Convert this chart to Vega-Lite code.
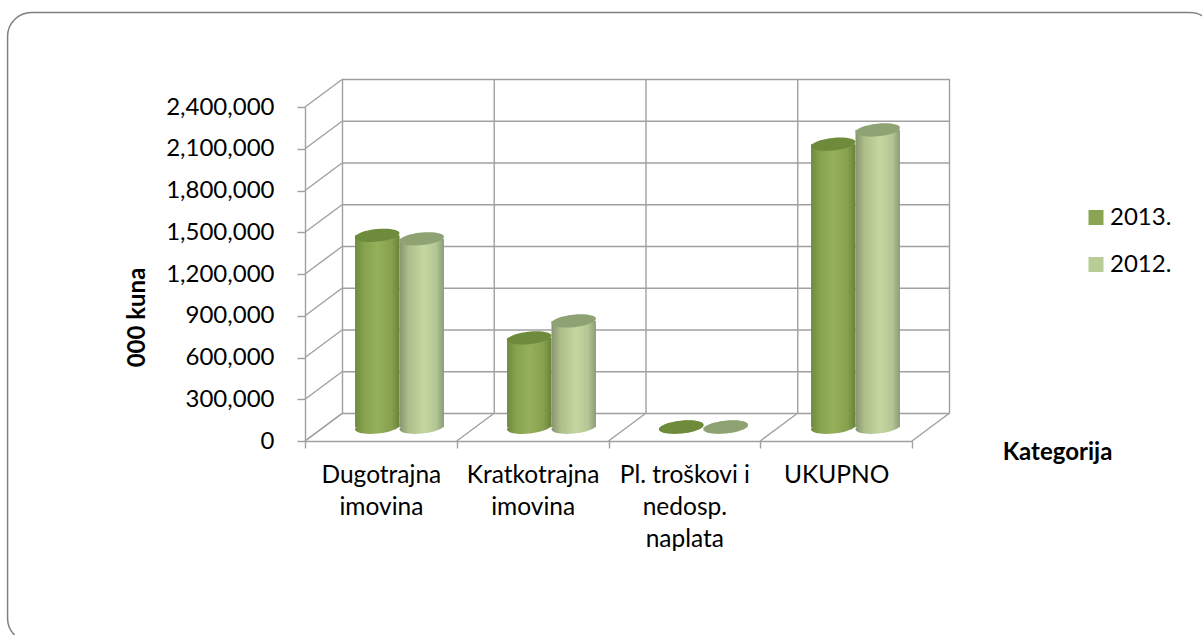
{"$schema":"https://vega.github.io/schema/vega-lite/v6.json","width":607,"height":334,"autosize":"none","padding":{"left":305,"top":107,"right":290,"bottom":194},"background":"white","config":{"view":{"stroke":null},"font":"Lato"},"datasets":{"bars":[{"cat":"Dugotrajna imovina","series":"2013.","value":1379000},{"cat":"Dugotrajna imovina","series":"2012.","value":1354000},{"cat":"Kratkotrajna imovina","series":"2013.","value":642000},{"cat":"Kratkotrajna imovina","series":"2012.","value":764000},{"cat":"Pl. troškovi i nedosp. naplata","series":"2013.","value":2000},{"cat":"Pl. troškovi i nedosp. naplata","series":"2012.","value":2000},{"cat":"UKUPNO","series":"2013.","value":2034000},{"cat":"UKUPNO","series":"2012.","value":2136000}],"ticks":[{"v":0},{"v":300000},{"v":600000},{"v":900000},{"v":1200000},{"v":1500000},{"v":1800000},{"v":2100000},{"v":2400000}],"seps":[{"p":0},{"p":1},{"p":2},{"p":3},{"p":4}]},"resolve":{"scale":{"x":"independent","y":"independent","color":"independent"},"axis":{"x":"independent","y":"independent"}},"layer":[{"mark":{"type":"rect","fill":null,"stroke":"#808080","strokeWidth":1.5,"cornerRadius":24},"data":{"values":[{}]},"encoding":{"x":{"datum":-1.96,"type":"quantitative","scale":{"domain":[0,4]},"axis":null},"x2":{"datum":5.99},"y":{"datum":3079000,"type":"quantitative","scale":{"domain":[0,2400000]},"axis":null},"y2":{"datum":-1446000}}},{"data":{"name":"ticks"},"mark":{"type":"rule","color":"#a0a0a0","strokeWidth":1.4,"xOffset":37,"x2Offset":38,"yOffset":-27.5},"encoding":{"x":{"datum":0,"type":"quantitative","scale":{"domain":[0,4]},"axis":null},"x2":{"datum":4},"y":{"field":"v","type":"quantitative","scale":{"domain":[0,2400000]},"axis":null}}},{"data":{"name":"seps"},"mark":{"type":"rule","color":"#a0a0a0","strokeWidth":1.4,"xOffset":37.5,"yOffset":-27.5,"y2Offset":-27.5},"encoding":{"x":{"field":"p","type":"quantitative","scale":{"domain":[0,4]},"axis":null},"y":{"datum":0,"type":"quantitative","scale":{"domain":[0,2400000]},"axis":null},"y2":{"datum":2400000}}},{"data":{"name":"ticks"},"mark":{"type":"rule","color":"#a0a0a0","strokeWidth":1.4,"x2Offset":37,"y2Offset":-27.5},"encoding":{"x":{"datum":0,"type":"quantitative","scale":{"domain":[0,4]},"axis":null},"x2":{"datum":0},"y":{"field":"v","type":"quantitative","scale":{"domain":[0,2400000]},"axis":{"values":[0,300000,600000,900000,1200000,1500000,1800000,2100000,2400000],"format":",d","grid":false,"title":"000 kuna","titleFont":"Lato","titleFontSize":24,"titleFontWeight":"bold","titleColor":"#000","titleX":-156,"titleY":210,"labelFont":"Lato","labelFontSize":24,"labelColor":"#000","labelPadding":23,"tickSize":8,"tickColor":"#a0a0a0","tickWidth":1.4,"domainColor":"#a0a0a0","domainWidth":1.4}},"y2":{"field":"v"}}},{"data":{"name":"seps"},"mark":{"type":"rule","color":"#a0a0a0","strokeWidth":1.4,"x2Offset":37,"y2Offset":-27.5},"encoding":{"x":{"field":"p","type":"quantitative","scale":{"domain":[0,4]},"axis":null},"x2":{"field":"p"},"y":{"datum":0,"type":"quantitative","scale":{"domain":[0,2400000]},"axis":null},"y2":{"datum":0}}},{"data":{"name":"bars"},"mark":{"type":"rule","opacity":0},"encoding":{"x":{"field":"cat","type":"nominal","sort":null,"scale":{"paddingInner":0,"paddingOuter":0},"axis":{"title":"Kategorija","titleFont":"Lato","titleFontSize":24,"titleFontWeight":"bold","titleColor":"#000","titleX":752,"titleY":-1,"labelFont":"Lato","labelFontSize":24.5,"labelColor":"#000","labelAngle":0,"labelPadding":34,"labelLineHeight":32,"labelBaseline":"alphabetic","labelLimit":0,"tickBand":"extent","tickSize":7,"tickColor":"#a0a0a0","tickWidth":1.4,"domainColor":"#a0a0a0","domainWidth":1.4,"labelExpr":"!isValid(datum.value) ? '' : (datum.value === 'Pl. troškovi i nedosp. naplata' ? ['Pl. troškovi i','nedosp.','naplata'] : (datum.value === 'UKUPNO' ? 'UKUPNO' : split(datum.value,' ')))","encode":{"labels":{"update":{"dx":{"signal":"datum.value === 'Dugotrajna imovina' ? -2 : 0"}}}}}},"y":{"datum":0,"type":"quantitative","scale":{"domain":[0,2400000]},"axis":null}}},{"data":{"name":"bars"},"mark":{"type":"point","shape":"M-1,0.105A1,0.28,-6,1,1,1,-0.105A1,0.28,-6,1,1,-1,0.105Z","size":1980,"filled":true,"opacity":1},"encoding":{"x":{"field":"cat","type":"nominal","sort":null,"scale":{"paddingInner":0.415,"paddingOuter":0.2075,"range":[18.5,626.5]},"axis":null},"xOffset":{"field":"series","type":"nominal","sort":["2013.","2012."],"scale":{"domain":["2013.","2012."],"paddingInner":0,"paddingOuter":0}},"y":{"datum":0,"type":"quantitative","scale":{"domain":[0,2400000],"range":[320.25,-13.75]},"axis":null},"fill":{"condition":{"test":"datum.series==='2013.'","value":{"gradient":"linear","x1":0,"y1":0,"x2":1,"y2":0,"stops":[{"offset":0,"color":"#6f8a3e"},{"offset":0.2,"color":"#86a24c"},{"offset":0.5,"color":"#95b05a"},{"offset":0.82,"color":"#86a04e"},{"offset":1,"color":"#6a8238"}]}},"value":{"gradient":"linear","x1":0,"y1":0,"x2":1,"y2":0,"stops":[{"offset":0,"color":"#87956e"},{"offset":0.22,"color":"#afc08c"},{"offset":0.55,"color":"#c4d7a0"},{"offset":0.82,"color":"#b4c794"},{"offset":1,"color":"#8c9c76"}]}}}},{"data":{"name":"bars"},"mark":{"type":"bar"},"encoding":{"x":{"field":"cat","type":"nominal","sort":null,"scale":{"paddingInner":0.415,"paddingOuter":0.2075,"range":[18.5,626.5]},"axis":null},"xOffset":{"field":"series","type":"nominal","sort":["2013.","2012."],"scale":{"domain":["2013.","2012."],"paddingInner":0,"paddingOuter":0}},"y":{"field":"value","type":"quantitative","stack":null,"scale":{"domain":[0,2400000],"range":[320.25,-13.75]},"axis":null},"fill":{"condition":{"test":"datum.series==='2013.'","value":{"gradient":"linear","x1":0,"y1":0,"x2":1,"y2":0,"stops":[{"offset":0,"color":"#6f8a3e"},{"offset":0.2,"color":"#86a24c"},{"offset":0.5,"color":"#95b05a"},{"offset":0.82,"color":"#86a04e"},{"offset":1,"color":"#6a8238"}]}},"value":{"gradient":"linear","x1":0,"y1":0,"x2":1,"y2":0,"stops":[{"offset":0,"color":"#87956e"},{"offset":0.22,"color":"#afc08c"},{"offset":0.55,"color":"#c4d7a0"},{"offset":0.82,"color":"#b4c794"},{"offset":1,"color":"#8c9c76"}]}}}},{"data":{"name":"bars"},"mark":{"type":"point","shape":"M-1,0.105A1,0.28,-6,1,1,1,-0.105A1,0.28,-6,1,1,-1,0.105Z","size":1980,"filled":true,"opacity":1},"encoding":{"x":{"field":"cat","type":"nominal","sort":null,"scale":{"paddingInner":0.415,"paddingOuter":0.2075,"range":[18.5,626.5]},"axis":null},"xOffset":{"field":"series","type":"nominal","sort":["2013.","2012."],"scale":{"domain":["2013.","2012."],"paddingInner":0,"paddingOuter":0}},"y":{"field":"value","type":"quantitative","scale":{"domain":[0,2400000],"range":[320.25,-13.75]},"axis":null},"fill":{"condition":{"test":"datum.series==='2013.'","value":"#6e8a3b"},"value":"#8fa274"}}},{"data":{"name":"bars"},"mark":{"type":"point","shape":"square","filled":true,"opacity":0},"encoding":{"x":{"datum":0,"type":"quantitative","scale":{"domain":[0,4]},"axis":null},"y":{"datum":0,"type":"quantitative","scale":{"domain":[0,2400000]},"axis":null},"color":{"field":"series","type":"nominal","sort":["2013.","2012."],"scale":{"domain":["2013.","2012."],"range":["#8aa552","#b8cc95"]},"legend":{"title":null,"orient":"none","legendX":779,"legendY":98,"symbolType":"square","symbolSize":225,"symbolOpacity":1,"symbolStrokeWidth":0,"labelFont":"Lato","labelFontSize":24,"labelColor":"#000","labelOffset":2,"rowPadding":22,"clipHeight":25}}}}]}
